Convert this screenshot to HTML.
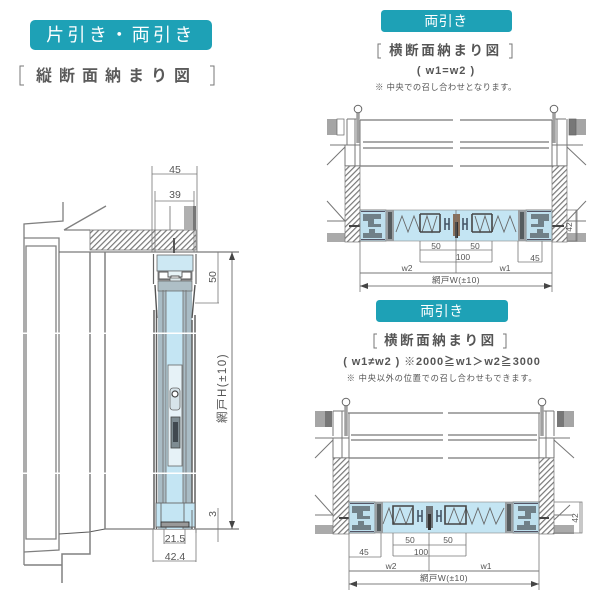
<!DOCTYPE html>
<html><head><meta charset="utf-8"><style>
html,body{margin:0;padding:0;background:#fff}
svg{display:block}
text{font-family:"Liberation Sans","Noto Sans CJK JP",sans-serif;fill:#555}
</style></head><body>
<svg width="600" height="600" viewBox="0 0 600 600" xmlns="http://www.w3.org/2000/svg">
<defs>
<pattern id="h" width="4" height="4" patternUnits="userSpaceOnUse" patternTransform="rotate(45)"><rect width="4" height="4" fill="#fff"/><rect width="1.2" height="4" fill="#777"/></pattern>
<marker id="a" viewBox="0 0 8 6" refX="8" refY="3" markerWidth="8" markerHeight="6" orient="auto-start-reverse" markerUnits="userSpaceOnUse"><path d="M0 0L8 3L0 6Z" fill="#444"/></marker>
<filter id="b"><feGaussianBlur stdDeviation="0.35"/></filter>

<g id="frame">
<rect width="26" height="31" fill="#bfe0ee" stroke="#777" stroke-width=".8"/>
<path d="M3 4H21V9H14V14H21V17H8V11H3ZM3 23H9V19H15V23H22V28H3Z" fill="#6f8088"/>
<path d="M1 1.500H25M1 29.500H25" stroke="#556" stroke-width="1"/>
<rect x="26" y="0" width="8" height="31" fill="#9a9fa2"/>
<rect x="28" y="2" width="4" height="27" fill="#555b5e"/>
</g>
<g id="top">
<path d="M0 2V34" stroke="#a0a0a0" stroke-width="3.500"/>
<circle cx="0" cy="0" r="3.800" fill="#fff" stroke="#666" stroke-width="1"/>
</g>
</defs>

<!-- Titles -->
<rect x="30" y="20" width="182" height="30" rx="5" fill="#1ea1b6"/>
<text x="121" y="41" font-size="18" text-anchor="middle" style="fill:#fff" letter-spacing="3.400">片引き・両引き</text>
<text x="36" y="81" font-size="16" font-weight="bold" letter-spacing="7" style="fill:#5a5a5a">縦断面納まり図</text>
<path d="M24 66H20V85H24M210 66H214V85H210" fill="none" stroke="#777" stroke-width="1"/>

<rect x="381" y="10" width="131" height="22" rx="3.500" fill="#1ea1b6"/>
<text x="446" y="26" font-size="14" text-anchor="middle" style="fill:#fff" letter-spacing=".5">両引き</text>
<text x="389" y="55" font-size="13.500" font-weight="bold" letter-spacing="2.600">横断面納まり図</text>
<path d="M381 44H378V58H381M509 44H512V58H509" fill="none" stroke="#777" stroke-width="1"/>
<text x="446" y="74" font-size="11" font-weight="bold" text-anchor="middle" letter-spacing="1">( w1=w2 )</text>
<text x="446" y="90" font-size="8.300" text-anchor="middle" letter-spacing=".45">※ 中央での召し合わせとなります。</text>

<rect x="376" y="300" width="132" height="22" rx="3.500" fill="#1ea1b6"/>
<text x="442" y="316" font-size="14" text-anchor="middle" style="fill:#fff" letter-spacing=".5">両引き</text>
<text x="384" y="345" font-size="13.500" font-weight="bold" letter-spacing="2.600">横断面納まり図</text>
<path d="M377 334H374V348H377M503 334H506V348H503" fill="none" stroke="#777" stroke-width="1"/>
<text x="442" y="365" font-size="11" font-weight="bold" text-anchor="middle" letter-spacing=".9">( w1≠w2 ) ※2000≧w1＞w2≧3000</text>
<text x="442" y="381" font-size="8.300" text-anchor="middle" letter-spacing=".7">※ 中央以外の位置での召し合わせもできます。</text>

<g filter="url(#b)">
<!-- LEFT DIAGRAM -->
<g fill="none" stroke="#808080" stroke-width="1.300">
<path d="M24 565V224L63 221V202M64 230L106 206M64 230H90"/>
<path d="M24 238H59V550L24 552M26 539V246H56V539Z"/>
<path d="M59 252H239" stroke="#5a5a5a" stroke-width="1"/>
<path d="M59 534L89 532L105 529H239" stroke="#5a5a5a" stroke-width="1"/>
<path d="M90 252V554H62V583M24 565H62V554M105 252V529" stroke-width="1.500"/>
</g>
<rect x="90" y="230" width="106" height="20" fill="url(#h)" stroke="#777" stroke-width=".8"/>
<rect x="184" y="206" width="12" height="24" fill="#b0b0b0"/><rect x="193" y="206" width="3" height="24" fill="#777"/>
<path d="M170 206V230" stroke="#888"/>
<path d="M174 238V254" stroke="#555" stroke-width="2"/>

<!-- track -->
<rect x="154" y="253" width="42" height="276" fill="#fff"/>
<rect x="157" y="255" width="36" height="16" fill="#cde8f3" stroke="#666" stroke-width=".8"/>
<rect x="158" y="290" width="34" height="239" fill="#a9bcc5"/>
<rect x="166" y="290" width="17" height="239" fill="#c4e5f3"/>
<path d="M153.500 254V284M196 254V284" stroke="#666" stroke-width="1.200" fill="none"/>
<path d="M154 310V529M156.500 310V529M195 315V529M192 320V529" stroke="#606060" stroke-width="1.500" fill="none"/>
<path d="M158 271H192V280H158Z" fill="#e8f4f8" stroke="#666" stroke-width=".8"/>
<path d="M159 272H168V277H171V276H179V277H182V272H191V279H159Z" fill="#fff" stroke="#555" stroke-width=".9"/>
<rect x="170" y="278" width="11" height="5" fill="#dfe9ec" stroke="#555" stroke-width=".7"/>
<path d="M158 281H192V291H158Z" fill="#aebfc6" stroke="#666" stroke-width=".7"/>
<path d="M166 290V529M183 290V529M163 290V503M186 290V503" stroke="#777" stroke-width=".9"/>
<path d="M155 285L157 318M195 285L192 318" stroke="#555" stroke-width="1.400" fill="none"/>
<rect x="168" y="365" width="14" height="101" fill="#e6f2f7" stroke="#666" stroke-width=".8"/>
<rect x="170" y="388" width="10" height="22" rx="3" fill="#d7e4ea" stroke="#666" stroke-width=".8"/>
<circle cx="175" cy="394" r="3" fill="#fff" stroke="#444" stroke-width="1.200"/>
<rect x="171" y="417" width="9" height="31" fill="#7e8c92" stroke="#444" stroke-width=".8"/>
<rect x="173" y="422" width="5" height="20" fill="#3f4a4f"/>
<rect x="156" y="503" width="39" height="24" fill="#c4e5f3" stroke="#666" stroke-width=".9"/>
<path d="M161 503V527M184 503V527M192 510V527" stroke="#666" stroke-width=".9"/>
<rect x="161" y="522" width="28" height="5" fill="#999" stroke="#333" stroke-width=".9"/>
<rect x="0" y="332.500" width="200" height="1.500" fill="#fff"/>
<rect x="0" y="472.500" width="200" height="1.500" fill="#fff"/>

<!-- left dims -->
<g fill="none" stroke="#777" stroke-width=".8">
<path d="M152 166V252M197 166V252M152 174H197"/>
<path d="M155 191V252M194 191V252M155 201H194"/>
<path d="M195 303H219M218 252V303"/>
<path d="M196 529V533M218 508V542"/>
<path d="M164 529V544M185 529V544M164 543H185"/>
<path d="M153 529V562M196 529V562M153 561H196"/>
</g>
<path d="M232 252V529" stroke="#555" stroke-width=".8" marker-start="url(#a)" marker-end="url(#a)"/>

<!-- TOP RIGHT -->
<g fill="none" stroke="#777" stroke-width="1">
<path d="M360 120H453M460 120H552M363 142H453M460 142H549M363 148H453M460 148H549M345 166H453M460 166H567" stroke-width="1.300"/>
<path d="M355 119V166M347 119V145M360 120V166M567 119V145M557 119V166M552 120V166"/>
<path d="M347 119H358M555 119H566M330 145H360M552 145H583M345 145V166M567 145V166"/>
<path d="M327 165L345 147M586 165L567 147M327 201L345 221M586 201L567 221M327 221H345M567 221H586"/>
</g>
<rect x="327" y="119" width="10" height="16" fill="#a5a5a5"/><rect x="337" y="119" width="7" height="16" fill="#fff" stroke="#666" stroke-width=".7"/>
<rect x="576" y="119" width="10" height="16" fill="#a5a5a5"/><rect x="569" y="119" width="7" height="16" fill="#777" stroke="#666" stroke-width=".7"/>
<rect x="327" y="233" width="18" height="9" fill="#aaa"/><rect x="567" y="233" width="19" height="9" fill="#aaa"/>
<rect x="345" y="166" width="15" height="76" fill="url(#h)" stroke="#777" stroke-width=".7"/>
<rect x="552" y="166" width="15" height="76" fill="url(#h)" stroke="#777" stroke-width=".7"/>
<use href="#top" x="358" y="109"/><use href="#top" x="554" y="109"/>
<path d="M349 226H360M552 226H564" stroke="#444" stroke-width="2"/>
<rect x="360" y="210" width="192" height="31" fill="#c4e5f3" stroke="#888" stroke-width=".6"/>
<use href="#frame" x="360" y="210"/>
<use href="#frame" transform="translate(552,210) scale(-1,1)"/>
<g fill="none" stroke="#666" stroke-width=".9">
<path d="M396 232L402 216L408 232L414 216L420 232"/>
<path d="M516 232L510 216L504 232L498 216L492 232"/>
<path d="M422 232L427 216L432 232L437 216"/>
<path d="M490 232L485 216L480 232L475 216"/>
</g>
<path d="M420 214H440M420 232H440M472 214H492M472 232H492M420 214V232M492 214V232M440 214V232M472 214V232" fill="none" stroke="#444" stroke-width="1.600"/>
<path d="M445 218V230M449 218V230M445 224H449M463 218V230M467 218V230M463 224H467" stroke="#456" stroke-width="1.600"/>
<rect x="453" y="214" width="7" height="22" fill="#8a6f5a"/><rect x="455" y="222" width="3" height="16" fill="#333"/>
<g fill="none" stroke="#777" stroke-width=".8">
<path d="M360 241V292M552 241V292M420 241V262M492 241V262M456 210V273M518 241V262"/>
<path d="M420 250H492M420 262H492M518 262H542M542 241V262"/>
<path d="M360 273H552" stroke-width="1"/>
<path d="M567 210H577V241H567M576 210V241"/>
</g>
<path d="M360 286H552" stroke="#555" stroke-width=".8" marker-start="url(#a)" marker-end="url(#a)"/>

<!-- BOTTOM RIGHT -->
<g fill="none" stroke="#777" stroke-width="1">
<path d="M348 413H443M448 413H540M351 435H443M448 435H537M351 440H443M448 440H537M333 458H443M448 458H554" stroke-width="1.300"/>
<path d="M342 411V458M333 411V436M349 413V458M554 411V436M546 411V458M539 413V458"/>
<path d="M333 411H345M543 411H554M315 438H349M539 438H570M333 438V458M554 438V458"/>
<path d="M315 458L333 440M574 458L554 440M315 495L333 515M570 505L554 520M315 515H333M554 515H572"/>
</g>
<rect x="315" y="411" width="10" height="16" fill="#a5a5a5"/><rect x="325" y="411" width="7" height="16" fill="#777"/>
<rect x="564" y="411" width="10" height="16" fill="#a5a5a5"/><rect x="557" y="411" width="7" height="16" fill="#777"/>
<rect x="315" y="525" width="18" height="9" fill="#aaa"/><rect x="554" y="525" width="20" height="9" fill="#aaa"/>
<rect x="333" y="458" width="16" height="76" fill="url(#h)" stroke="#777" stroke-width=".7"/>
<rect x="539" y="458" width="15" height="76" fill="url(#h)" stroke="#777" stroke-width=".7"/>
<use href="#top" x="346" y="402"/><use href="#top" x="542" y="402"/>
<path d="M339 518H349M539 518H549" stroke="#444" stroke-width="2"/>
<rect x="349" y="502" width="190" height="31" fill="#c4e5f3" stroke="#888" stroke-width=".6"/>
<use href="#frame" x="349" y="502"/>
<use href="#frame" transform="translate(539,502) scale(-1,1)"/>
<g fill="none" stroke="#666" stroke-width=".9">
<path d="M383 524L389 508L394 524L400 508L406 524L412 508"/>
<path d="M448 524L454 508L460 524L466 508L472 524L478 508L484 524L490 508L496 524L504 508"/>
</g>
<path d="M393 506H413V524H393ZM445 506H466V524H445Z" fill="none" stroke="#444" stroke-width="1.600"/>
<path d="M418 510V522M422 510V522M418 516H422M437 510V522M441 510V522M437 516H441" stroke="#456" stroke-width="1.600"/>
<rect x="426" y="506" width="7" height="22" fill="#6f767a"/><rect x="428" y="514" width="3" height="16" fill="#333"/>
<g fill="none" stroke="#777" stroke-width=".8">
<path d="M349 533V590M539 533V590M429 533V571M393 533V556M466 533V556M381 533V557"/>
<path d="M393 545H466M393 556H466M349 557H381"/>
<path d="M349 571H539" stroke-width="1"/>
<path d="M554 502H582V533H554M580 502V533"/>
</g>
<path d="M349 584H539" stroke="#555" stroke-width=".8" marker-start="url(#a)" marker-end="url(#a)"/>
</g>

<!-- dim labels -->
<g font-size="10.500" text-anchor="middle">
<text x="175" y="173">45</text>
<text x="175" y="198">39</text>
<text transform="translate(216,277) rotate(-90)">50</text>
<text transform="translate(216,514) rotate(-90)">3</text>
<text x="175" y="542">21.5</text>
<text x="175" y="560">42.4</text>
<text transform="translate(226,388) rotate(-90)" font-size="11.500" letter-spacing="1.500">網戸H(±10)</text>
</g>
<g font-size="8.500" text-anchor="middle">
<text x="436" y="249">50</text><text x="475" y="249">50</text><text x="463" y="260">100</text>
<text x="535" y="261">45</text><text x="407" y="271">w2</text><text x="505" y="271">w1</text>
<text x="456" y="283" letter-spacing=".4">網戸W(±10)</text>
<text transform="translate(572,227) rotate(-90)">42</text>
<text x="410" y="543">50</text><text x="448" y="543">50</text><text x="421" y="555">100</text>
<text x="364" y="555">45</text><text x="391" y="569">w2</text><text x="486" y="569">w1</text>
<text x="444" y="581" letter-spacing=".4">網戸W(±10)</text>
<text transform="translate(578,518) rotate(-90)">42</text>
</g>
</svg>
</body></html>
